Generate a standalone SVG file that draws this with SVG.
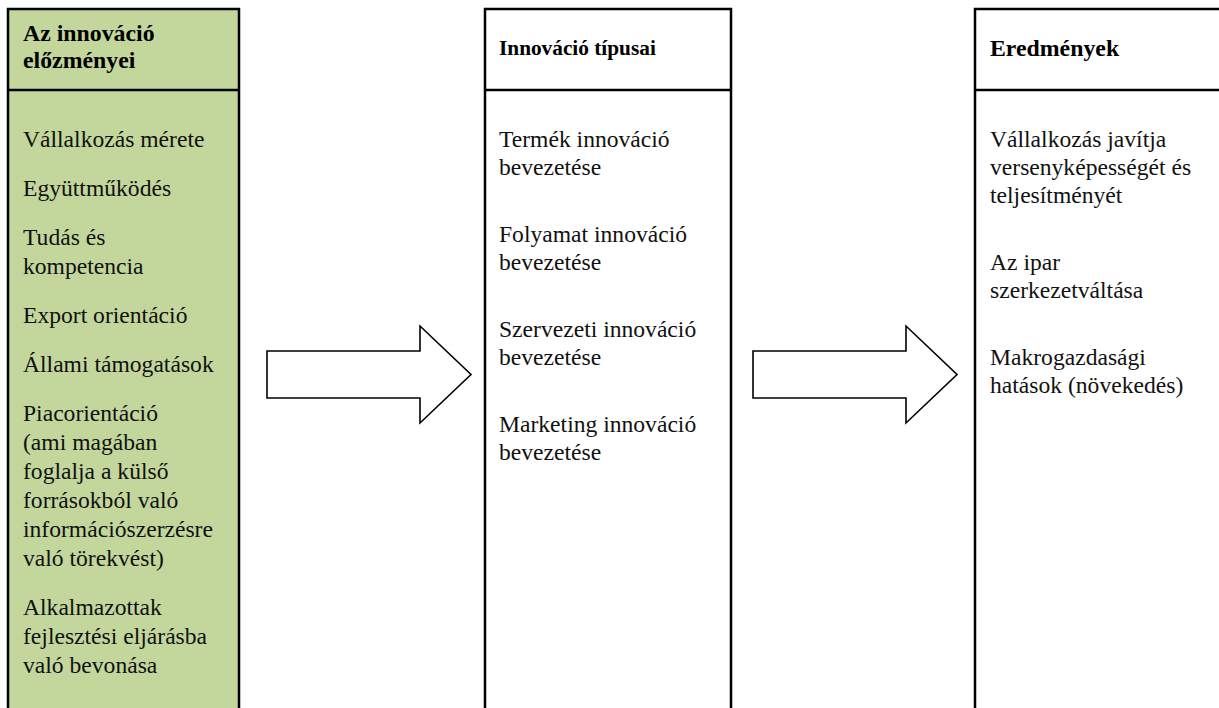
<svg xmlns="http://www.w3.org/2000/svg" width="1219" height="708" viewBox="0 0 1219 708">
  <style>
    .frame { fill: none; stroke: #000; stroke-width: 2.5; }
    .green { fill: #c3d69b; }
    text { font-family: 'Liberation Serif', Tinos, 'Times New Roman', Times, serif; fill: #111; }
    .body { font-size: 23.6px; }
    .head { font-size: 23.8px; font-weight: bold; fill: #000; }
    .head-sm { font-size: 21.3px; font-weight: bold; fill: #000; }
    .arrow { fill: #fff; stroke: #000; stroke-width: 1.6; stroke-linejoin: miter; }
  </style>

  <rect width="1219" height="708" fill="#fff"/>

  <!-- Column 1: antecedents of innovation -->
  <g id="node-elozmenyek">
    <rect class="green" x="8" y="9" width="231" height="710"/>
    <path class="frame" d="M8,720 V9 H239 V720 M8,90 H239"/>
    <text class="head" x="23" y="41">Az innováció</text>
    <text class="head" x="23" y="68">előzményei</text>
    <text class="body" x="23" y="147">Vállalkozás mérete</text>
    <text class="body" x="23" y="196">Együttműködés</text>
    <text class="body" x="23" y="245">Tudás és</text>
    <text class="body" x="23" y="274">kompetencia</text>
    <text class="body" x="23" y="323">Export orientáció</text>
    <text class="body" x="23" y="372">Állami támogatások</text>
    <text class="body" x="23" y="421">Piacorientáció</text>
    <text class="body" x="23" y="450">(ami magában</text>
    <text class="body" x="23" y="479">foglalja a külső</text>
    <text class="body" x="23" y="508">forrásokból való</text>
    <text class="body" x="23" y="537">információszerzésre</text>
    <text class="body" x="23" y="566">való törekvést)</text>
    <text class="body" x="23" y="615">Alkalmazottak</text>
    <text class="body" x="23" y="644">fejlesztési eljárásba</text>
    <text class="body" x="23" y="673">való bevonása</text>
  </g>

  <!-- Column 2: types of innovation -->
  <g id="node-tipusok">
    <path class="frame" d="M485,720 V9 H731 V720 M485,90 H731"/>
    <text class="head-sm" x="499" y="55">Innováció típusai</text>
    <text class="body" x="499" y="147">Termék innováció</text>
    <text class="body" x="499" y="175">bevezetése</text>
    <text class="body" x="499" y="242">Folyamat innováció</text>
    <text class="body" x="499" y="270">bevezetése</text>
    <text class="body" x="499" y="337">Szervezeti innováció</text>
    <text class="body" x="499" y="365">bevezetése</text>
    <text class="body" x="499" y="432">Marketing innováció</text>
    <text class="body" x="499" y="460">bevezetése</text>
  </g>

  <!-- Column 3: outcomes -->
  <g id="node-eredmenyek">
    <path class="frame" d="M975,720 V9 H1225 M975,90 H1225"/>
    <text class="head" x="990" y="56">Eredmények</text>
    <text class="body" x="990" y="147">Vállalkozás javítja</text>
    <text class="body" x="990" y="175">versenyképességét és</text>
    <text class="body" x="990" y="203">teljesítményét</text>
    <text class="body" x="990" y="270">Az ipar</text>
    <text class="body" x="990" y="298">szerkezetváltása</text>
    <text class="body" x="990" y="365">Makrogazdasági</text>
    <text class="body" x="990" y="393">hatások (növekedés)</text>
  </g>

  <!-- Block arrows between the columns -->
  <g id="connectors">
    <polygon class="arrow" points="267,351 420,351 420,326 471,374.5 420,423 420,398 267,398"/>
    <polygon class="arrow" points="753,351 906,351 906,326 957,374.5 906,423 906,398 753,398"/>
  </g>
</svg>
